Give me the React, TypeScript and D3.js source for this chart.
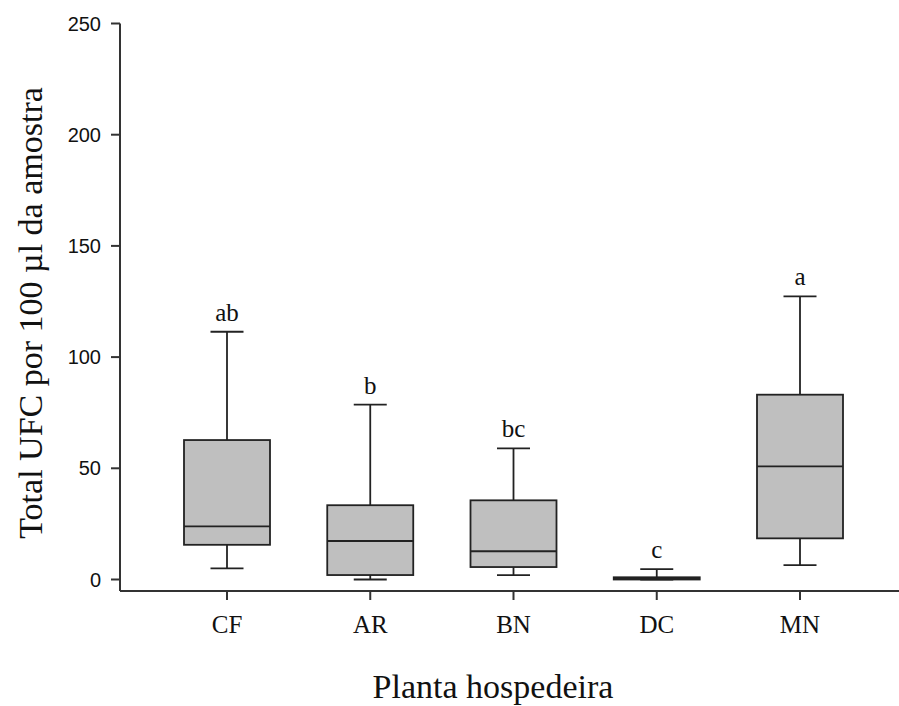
import * as d3 from "d3";
import React from "react";

// Dados (box plot)
const categorias = ["CF", "AR", "BN", "DC", "MN"];
const minimos = [5.0, 0.0, 2.0, 0.0, 6.5];
const quartil1 = [15.6, 2.0, 5.6, 0.0, 18.5];
const medianas = [23.9, 17.3, 12.7, 0.4, 50.9];
const quartil3 = [62.7, 33.4, 35.6, 1.0, 83.1];
const maximos = [111.4, 78.6, 59.0, 4.7, 127.3];
const letras = ["ab", "b", "bc", "c", "a"];
const yTicks = [0, 50, 100, 150, 200, 250];

const width = 899;
const height = 706;
const serif = "'Liberation Serif', 'Times New Roman', Times, serif";
const sans = "'Liberation Sans', Arial, sans-serif";

export default function App() {
  const y = d3.scaleLinear().domain([0, 250]).range([579.5, 23.5]);
  const x = d3.scalePoint<string>().domain(categorias).range([227, 800]);

  const axisLeft = 120;
  const axisBottom = 591;
  const boxW = 86;
  const capW = 33;
  const stroke = "#222";

  return (
    <svg
      width={width}
      height={height}
      style={{ position: "absolute", left: 0, top: 0, background: "#fff" }}
    >
      {/* eixo y */}
      <line x1={axisLeft} x2={axisLeft} y1={y(250)} y2={axisBottom} stroke="#333" strokeWidth={2} />
      {yTicks.map((t) => (
        <g key={t}>
          <line x1={axisLeft - 9} x2={axisLeft} y1={y(t)} y2={y(t)} stroke="#333" strokeWidth={2} />
          <text x={101} y={y(t)} dy="0.35em" textAnchor="end" fontFamily={sans} fontSize={20} fill="#111">
            {t}
          </text>
        </g>
      ))}

      {/* eixo x */}
      <line x1={axisLeft} x2={width} y1={axisBottom} y2={axisBottom} stroke="#333" strokeWidth={2} />
      {categorias.map((c) => (
        <g key={c}>
          <line x1={x(c)} x2={x(c)} y1={axisBottom} y2={axisBottom + 9} stroke="#333" strokeWidth={2} />
          <text x={x(c)} y={633} textAnchor="middle" fontFamily={serif} fontSize={25} fill="#111">
            {c}
          </text>
        </g>
      ))}

      {/* caixas */}
      {categorias.map((c, i) => {
        const cx = x(c) as number;
        return (
          <g key={"box" + c} stroke={stroke} strokeWidth={1.8}>
            <line x1={cx} x2={cx} y1={y(maximos[i])} y2={y(quartil3[i])} />
            <line x1={cx} x2={cx} y1={y(quartil1[i])} y2={y(minimos[i])} />
            <line x1={cx - capW / 2} x2={cx + capW / 2} y1={y(maximos[i])} y2={y(maximos[i])} />
            <line x1={cx - capW / 2} x2={cx + capW / 2} y1={y(minimos[i])} y2={y(minimos[i])} />
            <rect
              x={cx - boxW / 2}
              y={y(quartil3[i])}
              width={boxW}
              height={y(quartil1[i]) - y(quartil3[i])}
              fill="#bfbfbf"
            />
            <line x1={cx - boxW / 2} x2={cx + boxW / 2} y1={y(medianas[i])} y2={y(medianas[i])} />
            <text
              x={cx}
              y={y(maximos[i]) - 11}
              textAnchor="middle"
              stroke="none"
              fill="#111"
              fontFamily={serif}
              fontSize={25}
            >
              {letras[i]}
            </text>
          </g>
        );
      })}

      {/* títulos dos eixos */}
      <text x={493} y={698} textAnchor="middle" fontFamily={serif} fontSize={34} fill="#111">
        Planta hospedeira
      </text>
      <text
        transform={`translate(42, 313) rotate(-90)`}
        textAnchor="middle"
        fontFamily={serif}
        fontSize={34}
        fill="#111"
      >
        Total UFC por 100 µl da amostra
      </text>
    </svg>
  );
}
